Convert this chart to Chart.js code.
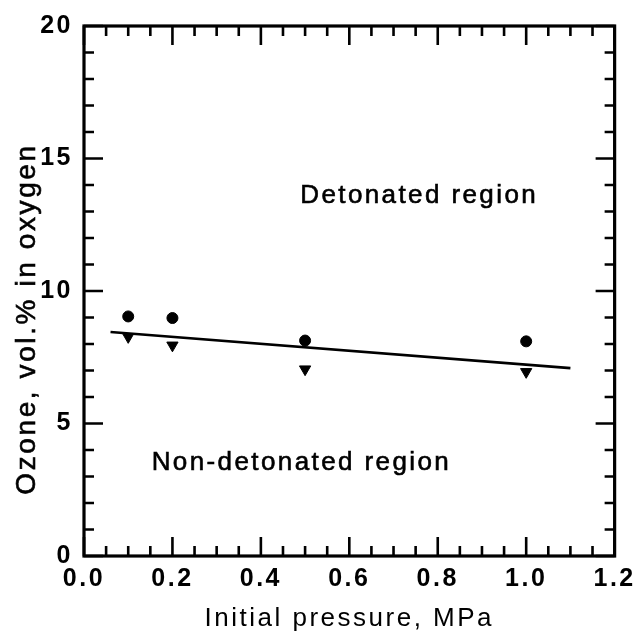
<!DOCTYPE html>
<html>
<head>
<meta charset="utf-8">
<script src="https://cdn.jsdelivr.net/npm/chart.js@4.4.1/dist/chart.umd.min.js"></script>
<style>
  html, body { margin: 0; padding: 0; background: #fff; }
</style>
</head>
<body>
<canvas id="ozoneChart" width="640" height="635"></canvas>
<script>
// data
const pressure = [0.1, 0.2, 0.5, 1.0];
const ozoneDetonated = [9.04, 8.98, 8.13, 8.10];
const ozoneNonDetonated = [8.27, 7.95, 7.05, 6.95];
const boundaryX = [0.06, 1.1];
const boundaryY = [8.45, 7.09];
const xTickValues = [0, 0.2, 0.4, 0.6, 0.8, 1.0, 1.2];
const yTickValues = [0, 5, 10, 15, 20];
const regionLabels = ['Detonated region', 'Non-detonated region'];
const regionLabelAt = [[0.489, 13.32], [0.153, 3.23]];

const FONT = "'Liberation Sans', Arial, sans-serif";

// * frame, inward ticks on all four sides, region labels and y title
const framePlugin = {
  id: 'framePlugin',
  beforeDraw(chart) {
    chart.ctx.letterSpacing = '2.5px';
  },
  afterDraw(chart) {
    const ctx = chart.ctx;
    const xs = chart.scales.x, ys = chart.scales.y;
    const { left, right, top, bottom } = chart.chartArea;
    ctx.save();
    ctx.strokeStyle = '#000';
    ctx.lineWidth = 3.2;
    ctx.strokeRect(left, top, right - left, bottom - top);

    ctx.lineWidth = 2.6;
    ctx.beginPath();
    for (let i = 0; i <= 24; i++) {
      const v = i * 0.05;
      const len = i % 4 === 0 ? 19 : 10;
      const px = xs.getPixelForValue(v);
      ctx.moveTo(px, bottom); ctx.lineTo(px, bottom - len);
      ctx.moveTo(px, top); ctx.lineTo(px, top + len);
    }
    for (let i = 0; i <= 20; i++) {
      const len = i % 5 === 0 ? 19 : 10;
      const py = ys.getPixelForValue(i);
      ctx.moveTo(left, py); ctx.lineTo(left + len, py);
      ctx.moveTo(right, py); ctx.lineTo(right - len, py);
    }
    ctx.stroke();

    // slight outline so the text reads as heavy as the scanned original
    ctx.fillStyle = '#000';
    ctx.lineWidth = 0.6;
    ctx.letterSpacing = '2.4px';
    ctx.font = '26px ' + FONT;
    ctx.textAlign = 'left';
    ctx.textBaseline = 'alphabetic';
    regionLabels.forEach((txt, i) => {
      const [vx, vy] = regionLabelAt[i];
      const px = xs.getPixelForValue(vx), py = ys.getPixelForValue(vy);
      ctx.fillText(txt, px, py);
      ctx.strokeText(txt, px, py);
    });

    ctx.font = '28px ' + FONT;
    ctx.letterSpacing = '2.6px';
    ctx.textAlign = 'center';
    ctx.translate(35, 319);
    ctx.rotate(-Math.PI / 2);
    ctx.fillText('Ozone, vol.% in oxygen', 0, 0);
    ctx.strokeText('Ozone, vol.% in oxygen', 0, 0);
    ctx.restore();
  }
};

const ctx = document.getElementById('ozoneChart').getContext('2d');

const chart = new Chart(ctx, {
  type: 'scatter',
  data: {
    datasets: [{
      label: 'Detonated',
      data: pressure.map((p, i) => ({ x: p, y: ozoneDetonated[i] })),
      pointStyle: 'circle',
      pointRadius: 5.5,
      backgroundColor: '#000',
      borderColor: '#000',
      borderWidth: 1
    },
    {
      label: 'Non-detonated',
      data: pressure.map((p, i) => ({ x: p, y: ozoneNonDetonated[i] })),
      pointStyle: 'triangle',
      pointRotation: 180,
      pointRadius: 6.5,
      backgroundColor: '#000',
      borderColor: '#000',
      borderWidth: 1
    },
    {
      type: 'line',
      label: 'Boundary',
      data: boundaryX.map((x, i) => ({ x: x, y: boundaryY[i] })),
      borderColor: '#000',
      borderWidth: 2.6,
      pointRadius: 0,
      fill: false
    }
    ]
  },
  options: {
    responsive: false,
    animation: false,
    layout: { padding: { top: 23, right: 21, left: 0, bottom: 0 } },
    plugins: {
      legend: { display: false },
      tooltip: { enabled: false }
    },
    scales: {
      x: {
        type: 'linear',
        min: 0,
        max: 1.2,
        afterBuildTicks: s => { s.ticks = xTickValues.map(v => ({ value: v })); },
        afterFit: s => { s.height = 79; },
        grid: { display: false, drawTicks: false },
        border: { display: false },
        ticks: {
          color: '#000',
          padding: 8,
          font: { family: FONT, size: 25, weight: 'bold' },
          callback: v => v.toFixed(1)
        },
        title: {
          display: true,
          text: 'Initial pressure, MPa',
          color: '#000',
          font: { family: FONT, size: 26, lineHeight: 1 },
          padding: { top: 0, bottom: 3 }
        }
      },
      y: {
        type: 'linear',
        min: 0,
        max: 20,
        afterBuildTicks: s => { s.ticks = yTickValues.map(v => ({ value: v })); },
        afterFit: s => { s.width = 84; },
        grid: { display: false, drawTicks: false },
        border: { display: false },
        ticks: {
          color: '#000',
          padding: 11,
          font: { family: FONT, size: 25, weight: 'bold' }
        }
      }
    }
  },
  plugins: [framePlugin]
});
</script>
</body>
</html>
